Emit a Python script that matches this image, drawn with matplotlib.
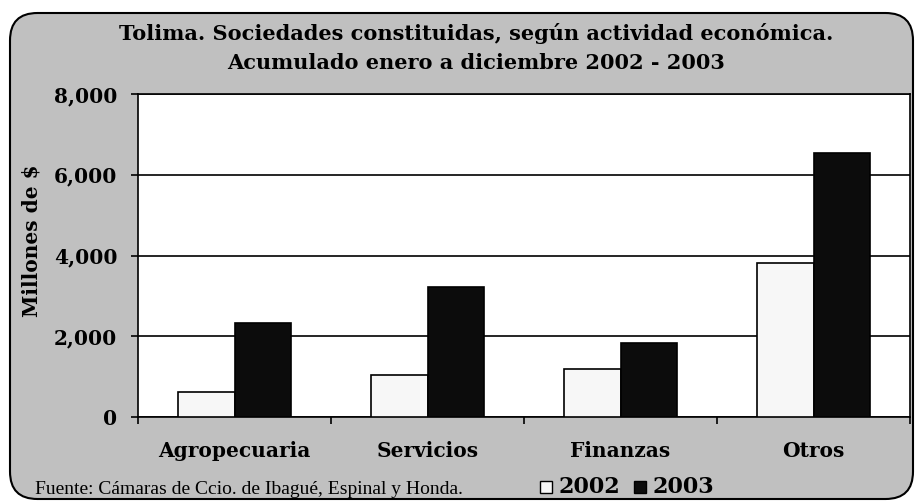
import numpy as np
import matplotlib
matplotlib.use('Agg')
import matplotlib.pyplot as plt
from matplotlib.patches import FancyBboxPatch, Rectangle

# data (millones de $)
categorias = ['Agropecuaria', 'Servicios', 'Finanzas', 'Otros']
valores_2002 = [630, 1035, 1190, 3805]
valores_2003 = [2335, 3220, 1835, 6530]
y_ticks = [0, 2000, 4000, 6000, 8000]

titulo_1 = 'Tolima. Sociedades constituidas, según actividad económica.'
titulo_2 = 'Acumulado enero a diciembre 2002 - 2003'
fuente = 'Fuente: Cámaras de Ccio. de Ibagué, Espinal y Honda.'

gris = '#c0c0c0'
color_2002 = '#f7f7f7'
color_2003 = '#0c0c0c'
serif_b = 'DejaVu Serif'

fig = plt.figure(figsize=(9.15, 5.01), dpi=100)
fig.patch.set_facecolor('white')

# rounded grey frame round the whole chart, behind the axes
marco = FancyBboxPatch((10/915, 2/501), 903/915, 486/501,
                       boxstyle='round,pad=0,rounding_size=0.03',
                       transform=fig.transFigure, facecolor=gris,
                       edgecolor='black', linewidth=1.5, mutation_aspect=915/501,
                       zorder=-5)
fig.patches.append(marco)

ax = fig.add_axes([138/915, 84/501, 772/915, 323/501])
ax.set_facecolor('white')

x = np.arange(len(categorias))
w = 0.295
ax.bar(x - w/2, valores_2002, w, color=color_2002, edgecolor='black', linewidth=1.2, zorder=3)
ax.bar(x + w/2, valores_2003, w, color=color_2003, edgecolor='black', linewidth=1.2, zorder=3)

ax.set_xlim(-0.5, len(categorias) - 0.5)
ax.set_ylim(0, 8000)
ax.set_yticks(y_ticks)
ax.set_yticklabels([f'{v:,}' for v in y_ticks], fontfamily=serif_b, fontweight='bold', fontsize=14.5)
ax.yaxis.grid(True, color='black', linewidth=1.2, zorder=1)
ax.set_axisbelow(True)

# categories centred, ticks on the boundaries
ax.set_xticks(x)
ax.set_xticklabels(categorias, fontfamily=serif_b, fontweight='bold', fontsize=14.5)
ax.set_xticks(np.arange(len(categorias) + 1) - 0.5, minor=True)
ax.tick_params(axis='x', which='major', length=0, pad=17)
ax.tick_params(axis='x', which='minor', length=5, width=1.2, direction='out')
ax.tick_params(axis='y', length=5, width=1.2, direction='out', pad=10)
for s in ax.spines.values():
    s.set_linewidth(1.2)

fig.text(32/915, 1 - 241/501, 'Millones de $', rotation=90, ha='center', va='center',
         fontfamily=serif_b, fontweight='bold', fontsize=14.5)

fig.text(476/915, 1 - 33/501, titulo_1, ha='center', va='center',
         fontfamily=serif_b, fontweight='bold', fontsize=15)
fig.text(476/915, 1 - 63/501, titulo_2, ha='center', va='center',
         fontfamily=serif_b, fontweight='bold', fontsize=15)

fig.text(35/915, 1 - 489/501, fuente, ha='left', va='center',
         fontfamily='Liberation Serif', fontsize=14)

# legend drawn as squares + labels
fig.patches.append(Rectangle((540/915, 1 - 493/501), 12/915, 12/501, transform=fig.transFigure,
                             facecolor=color_2002, edgecolor='black', linewidth=1))
fig.text(559/915, 1 - 487/501, '2002', ha='left', va='center',
         fontfamily=serif_b, fontweight='bold', fontsize=16)
fig.patches.append(Rectangle((634/915, 1 - 493/501), 12/915, 12/501, transform=fig.transFigure,
                             facecolor=color_2003, edgecolor='black', linewidth=1))
fig.text(653/915, 1 - 487/501, '2003', ha='left', va='center',
         fontfamily=serif_b, fontweight='bold', fontsize=16)

fig.savefig('out.png', dpi=100, facecolor=fig.get_facecolor())
